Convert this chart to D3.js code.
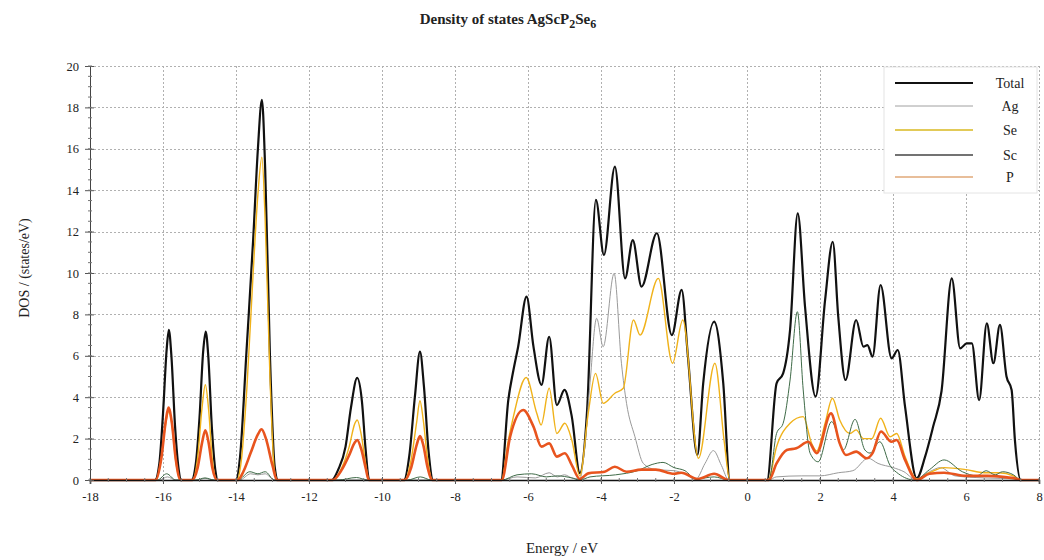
<!DOCTYPE html>
<html>
<head>
<meta charset="utf-8">
<script src="https://cdn.jsdelivr.net/npm/d3@7"></script>
<style>
  html, body { margin: 0; padding: 0; background: #fff; }
  svg { display: block; font-family: "Liberation Serif", "DejaVu Serif", serif; }
</style>
</head>
<body>
<div id="chart"></div>
<script>
// ---------------------------------------------------------------------------
// Data: [energy eV, DOS states/eV]
// ---------------------------------------------------------------------------
const xTicks = [-18, -16, -14, -12, -10, -8, -6, -4, -2, 0, 2, 4, 6, 8];
const yTicks = [0, 2, 4, 6, 8, 10, 12, 14, 16, 18, 20];

const totalDos = [
  [-18,0],[-16.22,0],[-16.1,0.8],[-16.0,3.2],[-15.9,6.3],[-15.84,7.25],[-15.77,6.0],[-15.67,2.6],[-15.57,0.5],[-15.5,0],
  [-15.22,0],[-15.1,0.8],[-15.0,3.0],[-14.9,6.2],[-14.83,7.17],[-14.76,6.0],[-14.66,2.5],[-14.56,0.4],[-14.5,0],
  [-14.0,0],[-13.89,1.1],[-13.71,6.3],[-13.53,11.6],[-13.4,16.0],[-13.29,18.36],[-13.2,15.0],[-13.07,6.0],[-12.94,0.64],[-12.85,0],
  [-11.38,0],[-11.2,0.5],[-11.0,1.6],[-10.85,3.5],[-10.68,4.93],[-10.55,3.8],[-10.45,1.5],[-10.35,0],
  [-9.4,0],[-9.25,1.2],[-9.1,4.0],[-8.96,6.2],[-8.85,4.5],[-8.72,1.3],[-8.6,0],
  [-6.74,0],[-6.54,3.86],[-6.4,5.3],[-6.27,6.44],[-6.04,8.86],[-5.85,6.44],[-5.63,4.6],[-5.42,6.92],[-5.21,3.62],
  [-5.0,4.35],[-4.8,3.06],[-4.58,0.33],[-4.38,3.38],[-4.14,13.53],[-3.92,10.87],[-3.62,15.14],[-3.34,9.74],
  [-3.13,11.59],[-2.89,9.34],[-2.47,11.92],[-2.06,7.0],[-1.79,9.18],[-1.62,6.0],[-1.36,1.21],[-1.2,4.67],
  [-0.9,7.65],[-0.65,4.67],[-0.47,0],
  [0.55,0],[0.81,4.67],[0.99,5.15],[1.18,7.25],[1.39,12.88],[1.59,8.37],[1.88,4.03],[2.14,8.7],[2.35,11.51],
  [2.5,7.89],[2.7,4.83],[2.99,7.73],[3.19,6.44],[3.3,6.52],[3.44,5.96],[3.66,9.42],[3.96,5.88],[4.13,6.28],
  [4.33,3.54],[4.65,0.08],[4.88,1.13],[5.1,2.58],[5.33,4.3],[5.61,9.74],[5.84,6.36],[6.02,6.6],[6.16,6.6],
  [6.36,3.86],[6.57,7.57],[6.75,5.64],[6.93,7.49],[7.11,5.0],[7.25,4.35],[7.34,1.93],[7.5,0],[8,0]
];

const agDos = [
  [-18,0],[-16.1,0],[-15.88,0.15],[-15.65,0],
  [-15.05,0],[-14.85,0.08],[-14.6,0],
  [-13.9,0],[-13.6,0.3],[-13.4,0.25],[-13.2,0.3],[-12.95,0],
  [-6.72,0],[-6.3,0.15],[-5.8,0.1],[-5.42,0.35],[-5.2,0.15],[-5.0,0.25],[-4.8,0.1],[-4.58,0.05],
  [-4.45,1.5],[-4.3,4.7],[-4.12,7.81],[-3.94,6.44],[-3.64,9.98],[-3.44,5.64],[-3.3,3.7],[-3.07,2.09],
  [-2.84,0.8],[-2.5,0.5],[-2.0,0.45],[-1.7,0.3],[-1.4,0.05],[-1.15,0.8],[-0.92,1.42],[-0.7,0.7],[-0.5,0],
  [0.6,0],[0.8,0.15],[1.5,0.2],[2.0,0.2],[2.5,0.35],[2.9,0.45],[3.32,1.05],[3.59,0.8],[4.0,0.6],[4.3,0.4],
  [4.6,0.05],[5.0,0.4],[5.3,0.6],[5.7,0.2],[6.5,0.1],[7.4,0.05],[7.5,0],[8,0]
];

const seDos = [
  [-18,0],[-16.2,0],[-16.05,1.0],[-15.92,2.8],[-15.84,3.3],[-15.75,2.6],[-15.65,0.9],[-15.52,0],
  [-15.2,0],[-15.05,1.1],[-14.93,3.5],[-14.84,4.6],[-14.75,3.4],[-14.65,1.0],[-14.52,0],
  [-13.98,0],[-13.85,1.0],[-13.7,4.5],[-13.53,10.0],[-13.4,13.8],[-13.29,15.6],[-13.2,12.5],[-13.07,5.0],[-12.95,0.5],[-12.87,0],
  [-11.35,0],[-11.1,0.6],[-10.9,1.6],[-10.75,2.7],[-10.68,2.9],[-10.57,2.2],[-10.45,0.8],[-10.36,0],
  [-9.38,0],[-9.2,1.0],[-9.05,2.8],[-8.96,3.83],[-8.87,2.9],[-8.75,1.0],[-8.62,0],
  [-6.72,0],[-6.55,1.8],[-6.4,3.06],[-6.05,4.95],[-5.76,3.22],[-5.64,2.66],[-5.42,4.43],[-5.21,2.25],[-4.99,2.74],
  [-4.8,1.93],[-4.58,0.2],[-4.35,3.22],[-4.15,5.15],[-3.94,3.7],[-3.62,4.19],[-3.39,4.43],[-3.11,7.73],
  [-2.93,7.0],[-2.43,9.74],[-2.04,5.64],[-1.76,7.73],[-1.33,1.05],[-0.88,5.64],[-0.62,1.8],[-0.47,0],
  [0.58,0],[0.81,1.61],[1.18,2.74],[1.54,3.06],[1.77,1.77],[1.91,1.4],[2.14,2.74],[2.34,3.95],[2.54,2.9],
  [2.82,2.25],[2.99,2.42],[3.19,2.0],[3.42,2.0],[3.66,2.98],[3.92,2.09],[4.1,2.25],[4.33,1.13],[4.65,0.05],
  [5.0,0.35],[5.4,0.6],[6.0,0.5],[6.5,0.35],[6.9,0.35],[7.3,0.2],[7.5,0],[8,0]
];

const scDos = [
  [-18,0],[-16.15,0],[-15.9,0.3],[-15.65,0],
  [-15.1,0],[-14.85,0.1],[-14.6,0],
  [-13.95,0],[-13.62,0.4],[-13.4,0.3],[-13.2,0.4],[-12.95,0],
  [-11.2,0],[-10.7,0.12],[-10.4,0],
  [-9.3,0],[-8.95,0.15],[-8.65,0],
  [-6.72,0],[-6.3,0.25],[-5.9,0.3],[-5.5,0.15],[-5.2,0.2],[-4.8,0.1],[-4.58,0],[-4.3,0.15],[-3.6,0.25],
  [-3.0,0.45],[-2.6,0.75],[-2.3,0.85],[-2.0,0.6],[-1.7,0.45],[-1.4,0.05],[-0.9,0.15],[-0.5,0],
  [0.6,0],[0.81,2.25],[0.99,2.74],[1.18,4.83],[1.38,8.13],[1.54,4.35],[1.73,1.29],[1.95,0.88],[2.32,2.82],
  [2.64,1.45],[2.96,2.93],[3.23,1.45],[3.37,1.3],[3.64,1.85],[3.92,0.7],[4.15,0.3],[4.6,0],[5.0,0.5],
  [5.4,0.97],[5.9,0.4],[6.3,0.2],[6.55,0.45],[6.8,0.25],[7.0,0.4],[7.3,0.25],[7.5,0],[8,0]
];

const pDos = [
  [-18,0],[-16.2,0],[-16.05,1.0],[-15.92,2.9],[-15.85,3.5],[-15.76,2.8],[-15.65,1.0],[-15.52,0],
  [-15.2,0],[-15.05,0.6],[-14.93,1.8],[-14.84,2.4],[-14.75,1.8],[-14.65,0.6],[-14.52,0],
  [-13.95,0],[-13.8,0.4],[-13.6,1.3],[-13.4,2.2],[-13.3,2.45],[-13.18,2.0],[-13.0,0.7],[-12.88,0],
  [-11.35,0],[-11.1,0.5],[-10.9,1.2],[-10.75,1.8],[-10.68,1.93],[-10.57,1.5],[-10.45,0.6],[-10.36,0],
  [-9.38,0],[-9.2,0.6],[-9.05,1.7],[-8.96,2.12],[-8.87,1.7],[-8.75,0.6],[-8.62,0],
  [-6.72,0],[-6.49,2.09],[-6.13,3.38],[-5.85,2.58],[-5.63,1.61],[-5.42,1.77],[-5.21,1.13],[-4.99,1.29],
  [-4.8,0.72],[-4.58,0.05],[-4.35,0.32],[-3.9,0.4],[-3.62,0.64],[-3.3,0.4],[-2.9,0.5],[-2.5,0.5],[-2.0,0.3],
  [-1.8,0.35],[-1.35,0.05],[-0.9,0.3],[-0.5,0],
  [0.6,0],[0.81,0.8],[1.09,1.45],[1.35,1.53],[1.68,1.85],[1.91,1.3],[2.3,3.22],[2.54,1.77],[2.71,1.21],
  [2.99,1.37],[3.28,1.05],[3.44,1.3],[3.67,2.34],[3.96,1.85],[4.1,1.93],[4.33,0.97],[4.65,0],[5.0,0.3],
  [5.4,0.35],[6.0,0.2],[6.6,0.2],[7.0,0.15],[7.4,0.05],[7.5,0],[8,0]
];

const seriesNames = ['Total', 'Ag', 'Se', 'Sc', 'P'];

// ---------------------------------------------------------------------------
// Chart
// ---------------------------------------------------------------------------
(function() {
  'use strict';

  const width = 1044, height = 560;
  const margin = { top: 66, right: 5, bottom: 80, left: 90 };

  const series = [
    { name: 'Total', data: totalDos, color: '#111111', width: 2.2, legendColor: '#111111' },
    { name: 'Ag',    data: agDos,    color: '#9a9a9a', width: 1,   legendColor: '#a0a0a0' },
    { name: 'Se',    data: seDos,    color: '#f0b21a', width: 1.4, legendColor: '#d8b820' },
    { name: 'Sc',    data: scDos,    color: '#3f6b48', width: 1,   legendColor: '#444444' },
    { name: 'P',     data: pDos,     color: '#e8541e', width: 2.6, legendColor: '#e0a878' }
  ];

  const svg = d3.select('#chart')
    .append('svg')
    .attr('width', width)
    .attr('height', height);

  const x = d3.scaleLinear().domain([-18, 8]).range([margin.left, width - margin.right]);
  const y = d3.scaleLinear().domain([0, 20]).range([height - margin.bottom, margin.top]);

  // Grid lines
  const grid = svg.append('g').attr('class', 'grid')
    .attr('stroke', '#b0b0b0')
    .attr('stroke-width', 1)
    .attr('stroke-dasharray', '2,2');

  grid.selectAll('line.gx')
    .data(xTicks.filter(t => t > -18))
    .join('line')
    .attr('class', 'gx')
    .attr('x1', d => Math.round(x(d)) + 0.5)
    .attr('x2', d => Math.round(x(d)) + 0.5)
    .attr('y1', y(0))
    .attr('y2', y(20));

  grid.selectAll('line.gy')
    .data(yTicks.filter(t => t > 0))
    .join('line')
    .attr('class', 'gy')
    .attr('x1', x(-18))
    .attr('x2', x(8))
    .attr('y1', d => Math.round(y(d)) + 0.5)
    .attr('y2', d => Math.round(y(d)) + 0.5);

  // Curves
  const line = d3.line()
    .x(d => x(d[0]))
    .y(d => y(d[1]))
    .curve(d3.curveMonotoneX);

  svg.append('g').attr('class', 'curves')
    .selectAll('path')
    .data(series)
    .join('path')
    .attr('fill', 'none')
    .attr('stroke', d => d.color)
    .attr('stroke-width', d => d.width)
    .attr('stroke-linejoin', 'round')
    .attr('d', d => line(d.data));

  // Axes: major ticks crossing the axis, minor ticks every 0.5
  const minorX = d3.range(-18, 8.001, 0.5);
  const minorY = d3.range(0, 20.001, 0.5);

  const xAxis = svg.append('g')
    .attr('transform', `translate(0,${y(0)})`)
    .call(d3.axisBottom(x).tickValues(xTicks).tickSize(4).tickPadding(8).tickFormat(d3.format('d')));
  xAxis.select('.domain').attr('stroke', '#111').attr('stroke-width', 1.5);
  xAxis.selectAll('.tick line').attr('stroke', '#555').attr('y1', -3);
  xAxis.selectAll('.tick text')
    .attr('font-family', '"Liberation Serif", serif')
    .attr('font-size', 12.5)
    .attr('fill', '#222')
    .text(d => d < 0 ? '-' + Math.abs(d) : d);
  xAxis.append('g').selectAll('line')
    .data(minorX)
    .join('line')
    .attr('x1', d => x(d)).attr('x2', d => x(d))
    .attr('y1', -2).attr('y2', 2)
    .attr('stroke', '#777');

  const yAxis = svg.append('g')
    .attr('transform', `translate(${x(-18)},0)`)
    .call(d3.axisLeft(y).tickValues(yTicks).tickSize(5).tickPadding(6));
  yAxis.select('.domain').attr('stroke', '#444').attr('stroke-width', 1);
  yAxis.selectAll('.tick line').attr('stroke', '#555').attr('x1', 4);
  yAxis.selectAll('.tick text')
    .attr('font-family', '"Liberation Serif", serif')
    .attr('font-size', 12.5)
    .attr('fill', '#222');
  yAxis.append('g').selectAll('line')
    .data(minorY)
    .join('line')
    .attr('y1', d => y(d)).attr('y2', d => y(d))
    .attr('x1', -2).attr('x2', 2)
    .attr('stroke', '#777');

  // Axis titles
  svg.append('text')
    .attr('x', 562)
    .attr('y', 553)
    .attr('text-anchor', 'middle')
    .attr('font-size', 15)
    .attr('fill', '#222')
    .text('Energy / eV');

  svg.append('text')
    .attr('transform', 'translate(29,268) rotate(-90)')
    .attr('text-anchor', 'middle')
    .attr('font-size', 14)
    .attr('fill', '#222')
    .text('DOS / (states/eV)');

  // Title with subscripts
  const title = svg.append('text')
    .attr('x', 508)
    .attr('y', 24)
    .attr('text-anchor', 'middle')
    .attr('font-size', 15)
    .attr('font-weight', 'bold')
    .attr('fill', '#222');
  title.append('tspan').text('Density of states AgScP');
  title.append('tspan').attr('dy', 4).attr('font-size', 12).text('2');
  title.append('tspan').attr('dy', -4).text('Se');
  title.append('tspan').attr('dy', 4).attr('font-size', 12).text('6');

  // Legend
  const legend = svg.append('g').attr('class', 'legend');
  legend.append('rect')
    .attr('x', 884).attr('y', 67)
    .attr('width', 153).attr('height', 126)
    .attr('fill', '#fff')
    .attr('stroke', '#e4e4e4');

  const rowY = [83, 106, 130, 155, 177];
  const item = legend.selectAll('g.item')
    .data(series)
    .join('g')
    .attr('class', 'item')
    .attr('transform', (d, i) => `translate(0,${rowY[i]})`);

  item.append('line')
    .attr('x1', 895).attr('x2', 973)
    .attr('stroke', d => d.legendColor)
    .attr('stroke-width', d => d.name === 'Total' ? 2 : (d.name === 'Ag' ? 1 : 1.6));

  item.append('text')
    .attr('x', 1010)
    .attr('dy', '0.35em')
    .attr('text-anchor', 'middle')
    .attr('font-size', 14)
    .attr('fill', '#222')
    .text((d, i) => seriesNames[i]);
})();
</script>
</body>
</html>
